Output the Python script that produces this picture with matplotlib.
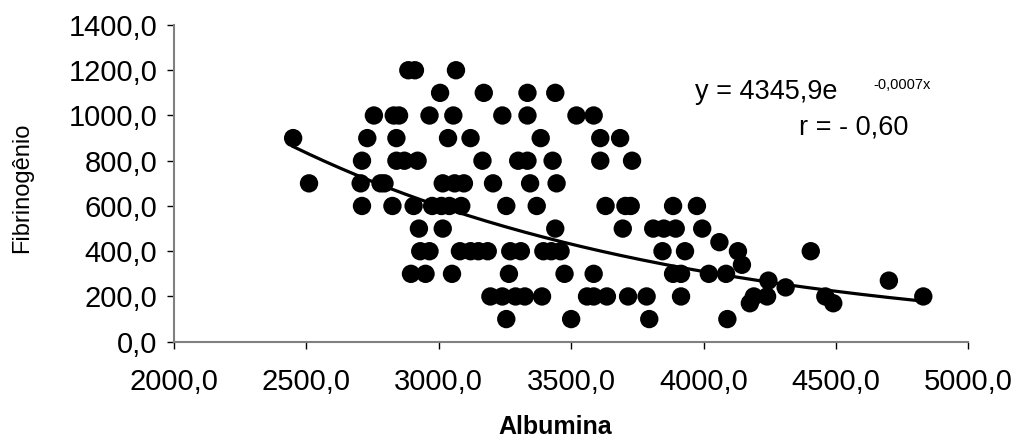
import numpy as np
import matplotlib
matplotlib.use("Agg")
import matplotlib.pyplot as plt

# ---- data ----
albumina = [
    2885, 2910, 3065,
    3005, 3170, 3335, 3440,
    2755, 2830, 2850, 2965, 3055, 3240, 3335, 3520, 3585,
    2450, 2730, 2840, 3035, 3120, 3385, 3610, 3685,
    2710, 2840, 2870, 2920, 3165, 3300, 3335, 3430, 3610, 3730,
    2510, 2705, 2780, 2795, 3015, 3060, 3095, 3205, 3345, 3445,
    2710, 2825, 2905, 2975, 3010, 3040, 3085, 3255, 3370, 3630, 3705, 3725, 3885, 3975,
    2925, 3015, 3440, 3695, 3810, 3850, 3895, 3995,
    4060,
    2930, 2965, 3080, 3120, 3150, 3185, 3270, 3310, 3395, 3425, 3460, 3845, 3930, 4130, 4405,
    4145,
    2895, 2950, 3050, 3265, 3475, 3585, 3885, 3915, 4020, 4085,
    4245, 4700,
    4310,
    3195, 3240, 3290, 3325, 3390, 3560, 3585, 3635, 3715, 3785, 3915, 4190, 4240, 4460, 4830,
    4175, 4490,
    3255, 3500, 3795, 4090,
]
fibrinogenio = (
    [1200] * 3 + [1100] * 4 + [1000] * 9 + [900] * 8 + [800] * 10 + [700] * 10
    + [600] * 14 + [500] * 8 + [440] + [400] * 15 + [340] + [300] * 10
    + [270] * 2 + [240] + [200] * 15 + [170] * 2 + [100] * 4
)

trend_a = 4345.9      # y = a * exp(-k x)
trend_k = 0.00066

xticks = [2000, 2500, 3000, 3500, 4000, 4500, 5000]
xticklabels = ["2000,0", "2500,0", "3000,0", "3500,0", "4000,0", "4500,0", "5000,0"]
yticks = [0, 200, 400, 600, 800, 1000, 1200, 1400]
yticklabels = ["0,0", "200,0", "400,0", "600,0", "800,0", "1000,0", "1200,0", "1400,0"]

plt.rcParams['font.family'] = ['Liberation Sans', 'DejaVu Sans']

W, H = 1019, 447
fig = plt.figure(figsize=(W / 100, H / 100), dpi=100)
x0, x1, yb, yt = 174, 968.3, 341.7, 25
ax = fig.add_axes([x0 / W, 1 - yb / H, (x1 - x0) / W, (yb - yt) / H])

ax.scatter(albumina, fibrinogenio, s=175, color='black', edgecolors='none', zorder=3)

xs = np.linspace(min(albumina), max(albumina), 200)
ax.plot(xs, trend_a * np.exp(-trend_k * xs), color='black', lw=2.3, zorder=4)

ax.set_xlim(2000, 5000)
ax.set_ylim(0, 1400)
ax.set_xticks(xticks)
ax.set_xticklabels(xticklabels, fontsize=21)
ax.set_yticks(yticks)
ax.set_yticklabels(yticklabels, fontsize=21)
ax.tick_params(axis='x', length=5, width=1, color='black', pad=14)
ax.tick_params(axis='y', length=5, width=1, color='black', pad=7)
for s in ['top', 'right']:
    ax.spines[s].set_visible(False)
for s in ['left', 'bottom']:
    ax.spines[s].set_color('#808080')
    ax.spines[s].set_linewidth(1.5)

fig.text(22 / W, 1 - 188 / H, "Fibrinogênio", rotation=90, ha='center', va='center', fontsize=17)
fig.text(555 / W, 1 - 427 / H, "Albumina", ha='center', va='center', fontsize=18, fontweight='bold')

fig.text(695 / W, 1 - 99 / H, "y = 4345,9e", ha='left', va='baseline', fontsize=19.5)
fig.text(873 / W, 1 - 89 / H, "-0,0007x", ha='left', va='baseline', fontsize=10.5)
fig.text(799 / W, 1 - 135 / H, "r = - 0,60", ha='left', va='baseline', fontsize=19.5)

fig.savefig("out.png", dpi=100)
